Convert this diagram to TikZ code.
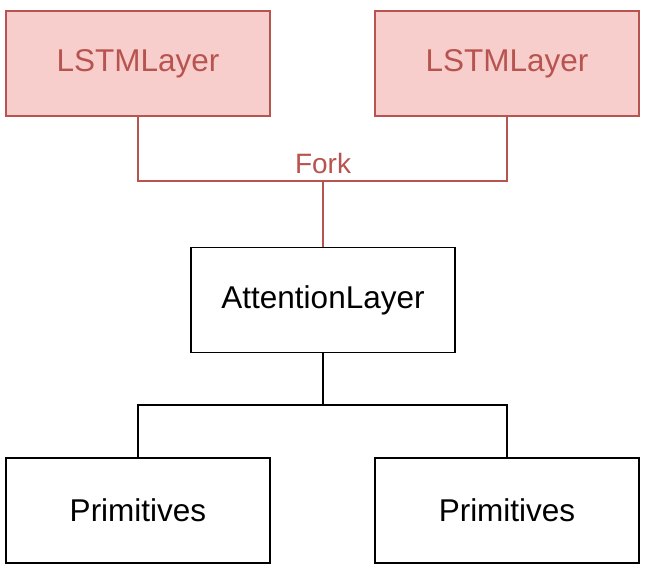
\documentclass[tikz,border=0pt]{standalone}
\usepackage{fontspec}
\setmainfont{Liberation Sans}
\definecolor{forkfill}{HTML}{F8CECC}
\definecolor{forkline}{HTML}{B85450}
\tikzset{
    layerbox/.style = {draw, line width = 1.8pt, minimum width = 264pt, minimum height = 105pt,
        inner sep = 0pt, font = \fontsize{31.5}{37}\selectfont},
    lstmbox/.style = {layerbox, draw = forkline, fill = forkfill, text = forkline},
    link/.style = {line width = 1.8pt}
}
\begin{document}
\begin{tikzpicture}[x = 1pt, y = -1pt]
            \useasboundingbox (0,0) rectangle (648,576);
            \begin{scope}
                \node[lstmbox] (lstmL) at (138,63.5) {LSTMLayer};
                \node[lstmbox] (lstmR) at (507,63.5) {LSTMLayer};
                \node[layerbox] (attn) at (323,300) {AttentionLayer};
                \node[layerbox] (primL) at (138,510.5) {Primitives};
                \node[layerbox] (primR) at (507,510.5) {Primitives};
            \end{scope}
            \coordinate (fork) at (323,181);
            \coordinate (split) at (323,405);
            \node[anchor = base, text = forkline, font = \fontsize{28}{34}\selectfont] (forklabel) at (323,173) {Fork};
            \draw[link, forkline] (lstmL.south) |- (fork) -| (lstmR.south);
            \draw[link, forkline] (fork) -- (attn.north);
            \draw[link] (attn.south) -- (split);
            \draw[link] (primL.north) |- (split) -| (primR.north);
\end{tikzpicture}
\end{document}
